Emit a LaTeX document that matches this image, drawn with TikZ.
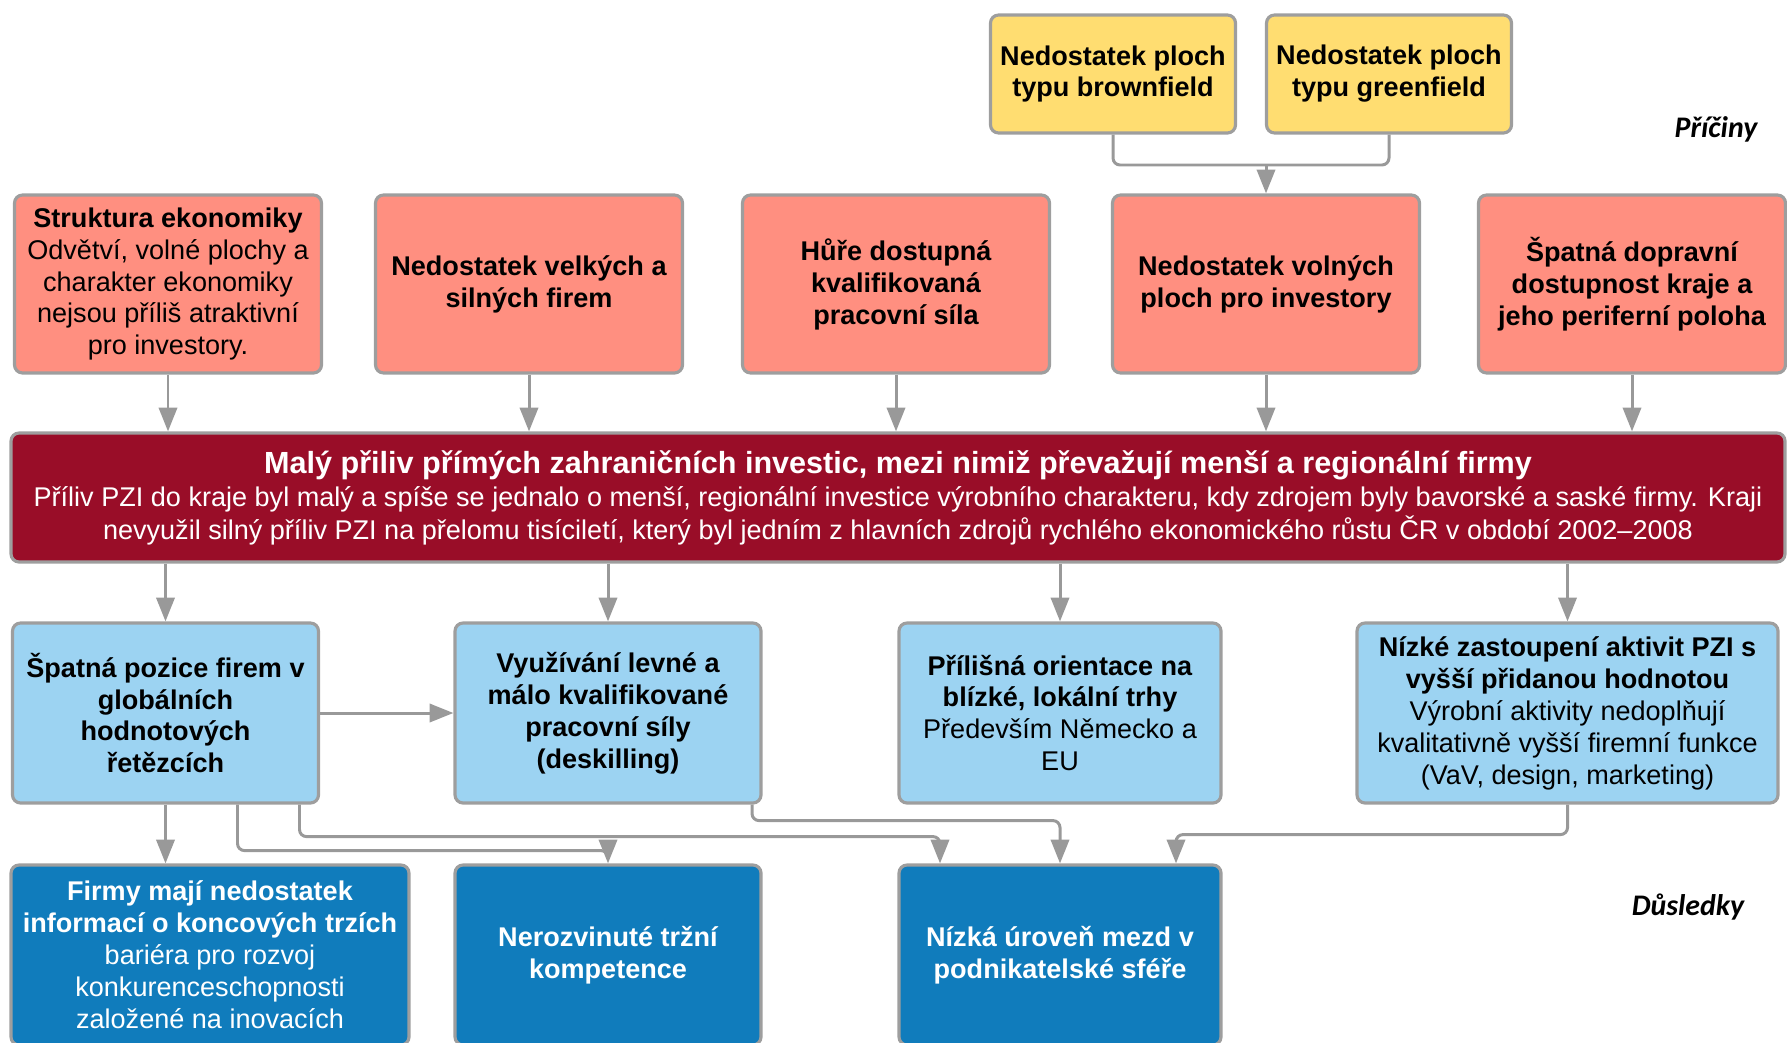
\documentclass[tikz,border=0pt]{standalone}
\usepackage{fontspec}
\setmainfont{Liberation Sans}
\newfontfamily\labelfont{Carlito}
\usepackage{tikz}
\usetikzlibrary{arrows.meta}

\definecolor{causeyellow}{HTML}{FFDD71}
\definecolor{causered}{HTML}{FF8F80}
\definecolor{barred}{HTML}{990D28}
\definecolor{effectblue}{HTML}{9CD3F2}
\definecolor{impactblue}{HTML}{107CBC}
\definecolor{boxgray}{HTML}{9E9E9E}
\definecolor{linkgray}{HTML}{999999}

\tikzset{
  box/.style={draw=boxgray, line width=0.9pt, rounded corners=2.3pt, align=center, inner sep=0pt,
    font=\fontsize{7.7}{9.1}\selectfont},
  subcause/.style={box, fill=causeyellow, font=\fontsize{7.7}{9.1}\selectfont\bfseries,
    minimum width=2.45cm, minimum height=1.18cm},
  cause/.style={box, fill=causered, minimum width=3.07cm, minimum height=1.78cm},
  effect/.style={box, fill=effectblue, minimum width=3.06cm, minimum height=1.80cm},
  impact/.style={box, fill=impactblue, text=white, minimum width=3.06cm, minimum height=1.80cm},
  sidelabel/.style={font=\labelfont\fontsize{8.5}{10}\selectfont\bfseries\itshape},
  link/.style={draw=linkgray, line width=0.85pt, rounded corners=2pt},
  arrow/.style={link, -{Triangle[length=6.8pt,width=5.2pt]}},
}

\begin{document}
\begin{tikzpicture}
        \useasboundingbox (0,0) rectangle (17.87,-10.42);

        % Nodes
        \node[subcause] (brown) at (11.13,-0.74) {Nedostatek ploch\\typu brownfield};
        \node[subcause] (green) at (13.89,-0.74) {Nedostatek ploch\\typu greenfield};
        \node[sidelabel] (priciny) at (17.16,-1.29) {Příčiny};

        \node[cause] (struktura) at (1.68,-2.84) {\textbf{Struktura ekonomiky}\\Odvětví, volné plochy a\\charakter ekonomiky\\nejsou příliš atraktivní\\pro investory.};
        \node[cause, font=\fontsize{7.7}{9.1}\selectfont\bfseries] (firmy) at (5.29,-2.84) {Nedostatek velkých a\\silných firem};
        \node[cause, font=\fontsize{7.7}{9.1}\selectfont\bfseries] (prace) at (8.96,-2.84) {Hůře dostupná\\kvalifikovaná\\pracovní síla};
        \node[cause, font=\fontsize{7.7}{9.1}\selectfont\bfseries] (plochy) at (12.66,-2.84) {Nedostatek volných\\ploch pro investory};
        \node[cause, font=\fontsize{7.7}{9.1}\selectfont\bfseries] (doprava) at (16.32,-2.84) {Špatná dopravní\\dostupnost kraje a\\jeho periferní poloha};

        \node[box, fill=barred, text=white, minimum width=17.74cm, minimum height=1.29cm,
          font=\fontsize{7.7}{9.4}\selectfont] (pzi) at (8.98,-4.975)
          {{\fontsize{8.7}{9.6}\selectfont\bfseries Malý přiliv přímých zahraničních investic, mezi nimiž převažují menší a regionální firmy}\\
           Příliv PZI do kraje byl malý a spíše se jednalo o menší, regionální investice výrobního charakteru, kdy zdrojem byly bavorské a saské firmy. Kraji\\
           nevyužil silný příliv PZI na přelomu tisíciletí, který byl jedním z hlavních zdrojů rychlého ekonomického růstu ČR v období 2002–2008};

        \node[effect, font=\fontsize{7.7}{9.1}\selectfont\bfseries] (pozice) at (1.655,-7.13) {Špatná pozice firem v\\globálních\\hodnotových\\řetězcích};
        \node[effect, font=\fontsize{7.7}{9.1}\selectfont\bfseries] (levna) at (6.08,-7.13) {Využívání levné a\\málo kvalifikované\\pracovní síly\\(deskilling)};
        \node[effect, minimum width=3.22cm] (trhy) at (10.60,-7.13) {\textbf{Přílišná orientace na}\\\textbf{blízké, lokální trhy}\\Především Německo a\\EU};
        \node[effect, minimum width=4.21cm] (zastoupeni) at (15.675,-7.13) {\textbf{Nízké zastoupení aktivit PZI s}\\\textbf{vyšší přidanou hodnotou}\\Výrobní aktivity nedoplňují\\kvalitativně vyšší firemní funkce\\(VaV, design, marketing)};

        \node[impact, minimum width=3.98cm] (informace) at (2.10,-9.55) {\textbf{Firmy mají nedostatek}\\\textbf{informací o koncových trzích}\\bariéra pro rozvoj\\konkurenceschopnosti\\založené na inovacích};
        \node[impact, font=\fontsize{7.7}{9.1}\selectfont\bfseries] (kompetence) at (6.08,-9.55) {Nerozvinuté tržní\\kompetence};
        \node[impact, minimum width=3.22cm, font=\fontsize{7.7}{9.1}\selectfont\bfseries] (mzdy) at (10.60,-9.55) {Nízká úroveň mezd v\\podnikatelské sféře};
        \node[sidelabel] (dusledky) at (16.88,-9.07) {Důsledky};

        \coordinate (join) at (12.66,-1.65);

        % Lines
        \draw[link] (brown.south) |- (join) -| (green.south);
        \draw[arrow] (join) -- (plochy.north);
        \foreach \n in {struktura, firmy, prace, plochy, doprava}
          \draw[arrow] (\n.south) -- (\n.south |- pzi.north);
        \foreach \n in {pozice, levna, trhy, zastoupeni}
          \draw[arrow] (pzi.south -| \n.north) -- (\n.north);
        \draw[arrow] (pozice.east) -- (levna.west);
        \draw[arrow] (pozice.south) -- (pozice.south |- informace.north);
        \draw[arrow] ([xshift=7.2mm]pozice.south) -- ++(0,-0.46) -| (kompetence.north);
        \draw[arrow] ([xshift=13.4mm]pozice.south) -- ++(0,-0.32) -| ([xshift=-12mm]mzdy.north);
        \draw[arrow] ([xshift=14.4mm]levna.south) -- ++(0,-0.16) -| (mzdy.north);
        \draw[arrow] (zastoupeni.south) -- ++(0,-0.30) -| ([xshift=11.6mm]mzdy.north);
    \end{tikzpicture}
\end{document}
